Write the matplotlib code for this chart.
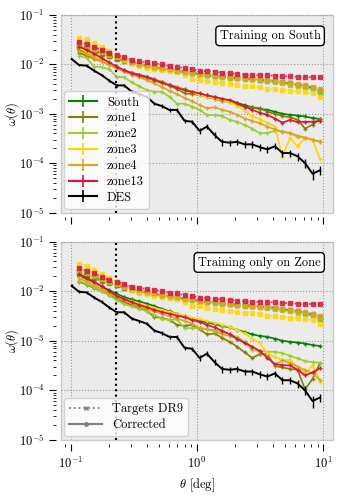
import matplotlib
matplotlib.use("Agg")
import matplotlib.pyplot as plt
from matplotlib.lines import Line2D

plt.rcParams.update({
    "font.family": "serif",
    "font.serif": ["cmr10", "DejaVu Serif"],
    "mathtext.fontset": "cm",
    "axes.formatter.use_mathtext": True,
    "font.size": 9,
    "axes.labelsize": 9,
    "xtick.labelsize": 9,
    "ytick.labelsize": 9,
    "legend.fontsize": 9,
})

# ---------- data ----------
# angular bins (deg); DES uses all of them, the zones start at the 2nd bin
THETA = [0.102, 0.117, 0.134, 0.154, 0.176, 0.202, 0.232, 0.266, 0.305, 0.350,
         0.402, 0.461, 0.528, 0.607, 0.695, 0.798, 0.916, 1.05, 1.20, 1.38,
         1.58, 1.82, 2.08, 2.39, 2.74, 3.15, 3.61, 4.14, 4.75, 5.45,
         6.25, 7.17, 8.22, 9.44]
THETA_ZONE = THETA[1:]
THETA_CUT = 0.23

ZONES = ["South", "zone1", "zone2", "zone3", "zone4", "zone13"]
COLORS = ["green", "olive", "yellowgreen", "gold", "goldenrod", "crimson"]

DES_W = [1.28e-2, 9.7e-3, 9.4e-3, 7.4e-3, 6.1e-3, 4.7e-3, 3.75e-3, 3.75e-3, 2.8e-3, 2.5e-3,
         2.2e-3, 1.6e-3, 1.43e-3, 1.19e-3, 1.19e-3, 7.2e-4, 6.9e-4, 4.5e-4, 5.5e-4, 3.7e-4,
         2.7e-4, 2.6e-4, 2.7e-4, 2.4e-4, 2.4e-4, 2.1e-4, 1.9e-4, 2.2e-4, 1.6e-4, 1.6e-4,
         1.38e-4, 1.0e-4, 6.1e-5, 7.2e-5]
DES_ERR = [8e-4, 6e-4, 6e-4, 5e-4, 4e-4, 3e-4, 2.5e-4, 2.5e-4, 2e-4, 1.8e-4,
           1.6e-4, 1.3e-4, 1.2e-4, 1.0e-4, 1.0e-4, 8e-5, 7e-5, 6e-5, 6e-5, 5e-5,
           4.5e-5, 4e-5, 4e-5, 3.5e-5, 3.5e-5, 3.2e-5, 3e-5, 3e-5, 2.8e-5, 2.6e-5,
           2.5e-5, 2e-5, 1.6e-5, 1.4e-5]

# Targets DR9 (before correction), identical in both panels
TGT_SOUTH = [2.4e-2, 2.15e-2, 1.9e-2, 1.7e-2, 1.5e-2, 1.35e-2, 1.2e-2, 1.1e-2, 1.0e-2, 9.4e-3,
             8.8e-3, 8.3e-3, 7.9e-3, 7.5e-3, 7.1e-3, 6.8e-3, 6.4e-3, 6.1e-3, 5.9e-3, 5.7e-3,
             5.5e-3, 5.3e-3, 5.2e-3, 5.1e-3, 4.9e-3, 4.8e-3, 4.6e-3, 4.3e-3, 4.1e-3, 3.9e-3,
             3.6e-3, 3.3e-3, 2.8e-3]
TGT_ZONE1 = [2.2e-2, 2.0e-2, 1.8e-2, 1.6e-2, 1.45e-2, 1.3e-2, 1.17e-2, 1.07e-2, 9.8e-3, 9.2e-3,
             8.6e-3, 8.1e-3, 7.7e-3, 7.3e-3, 6.9e-3, 6.6e-3, 6.3e-3, 6.0e-3, 5.8e-3, 5.6e-3,
             5.4e-3, 5.2e-3, 5.1e-3, 5.0e-3, 4.8e-3, 4.7e-3, 4.5e-3, 4.3e-3, 4.1e-3, 3.9e-3,
             3.7e-3, 3.4e-3, 3.0e-3]
TGT_ZONE2 = [2.6e-2, 2.3e-2, 2.0e-2, 1.75e-2, 1.55e-2, 1.38e-2, 1.22e-2, 1.1e-2, 1.0e-2, 9.3e-3,
             8.7e-3, 8.2e-3, 7.8e-3, 7.4e-3, 7.0e-3, 6.7e-3, 6.3e-3, 6.0e-3, 5.8e-3, 5.6e-3,
             5.4e-3, 5.2e-3, 5.1e-3, 5.0e-3, 4.8e-3, 4.6e-3, 4.4e-3, 4.1e-3, 3.9e-3, 3.7e-3,
             3.4e-3, 3.1e-3, 2.6e-3]
TGT_ZONE3 = [3.5e-2, 3.2e-2, 2.7e-2, 2.25e-2, 1.85e-2, 1.5e-2, 1.25e-2, 1.05e-2, 9.3e-3, 8.6e-3,
             8.1e-3, 7.7e-3, 7.4e-3, 7.0e-3, 6.1e-3, 5.1e-3, 4.9e-3, 4.6e-3, 4.3e-3, 4.2e-3,
             4.0e-3, 3.8e-3, 3.7e-3, 3.6e-3, 3.5e-3, 3.2e-3, 3.1e-3, 3.0e-3, 2.9e-3, 2.85e-3,
             2.75e-3, 2.6e-3, 2.2e-3]
TGT_ZONE4 = [2.75e-2, 2.4e-2, 2.1e-2, 1.85e-2, 1.6e-2, 1.42e-2, 1.27e-2, 1.14e-2, 1.04e-2, 9.7e-3,
             9.0e-3, 8.4e-3, 8.0e-3, 7.5e-3, 7.1e-3, 6.8e-3, 6.4e-3, 6.1e-3, 5.9e-3, 5.7e-3,
             5.5e-3, 5.3e-3, 5.2e-3, 5.1e-3, 5.0e-3, 4.8e-3, 4.6e-3, 4.4e-3, 4.2e-3, 4.0e-3,
             3.8e-3, 3.5e-3, 3.1e-3]
TGT_ZONE13 = [2.9e-2, 2.6e-2, 2.3e-2, 1.95e-2, 1.7e-2, 1.55e-2, 1.4e-2, 1.22e-2, 1.17e-2, 1.1e-2,
              1.05e-2, 1.0e-2, 9.2e-3, 9.0e-3, 8.3e-3, 8.1e-3, 7.4e-3, 7.3e-3, 7.1e-3, 6.8e-3,
              6.6e-3, 6.4e-3, 6.2e-3, 6.1e-3, 6.1e-3, 6.0e-3, 5.9e-3, 5.8e-3, 5.7e-3, 5.6e-3,
              5.5e-3, 5.5e-3, 5.45e-3]

# Corrected, training on South (top panel)
COR_S_SOUTH = [2.0e-2, 1.75e-2, 1.5e-2, 1.25e-2, 1.05e-2, 8.8e-3, 7.6e-3, 6.8e-3, 6.2e-3, 5.6e-3,
               5.0e-3, 4.4e-3, 3.9e-3, 3.5e-3, 3.1e-3, 2.8e-3, 2.55e-3, 2.35e-3, 2.15e-3, 2.0e-3,
               1.85e-3, 1.65e-3, 1.5e-3, 1.35e-3, 1.25e-3, 1.2e-3, 1.1e-3, 1.0e-3, 9.5e-4, 9.2e-4,
               8.8e-4, 8.2e-4, 7.8e-4]
COR_S_ZONE1 = [1.7e-2, 1.5e-2, 1.3e-2, 1.15e-2, 1.0e-2, 8.4e-3, 7.2e-3, 6.4e-3, 5.8e-3, 5.3e-3,
               4.7e-3, 4.2e-3, 3.7e-3, 3.2e-3, 2.6e-3, 2.5e-3, 2.4e-3, 2.2e-3, 2.0e-3, 1.85e-3,
               1.7e-3, 1.5e-3, 1.4e-3, 1.35e-3, 1.3e-3, 1.1e-3, 1.0e-3, 9.0e-4, 8.5e-4, 7.6e-4,
               5.0e-4, 6.0e-4, 8.0e-4]
COR_S_ZONE2 = [1.5e-2, 1.35e-2, 9.0e-3, 8.8e-3, 8.0e-3, 5.6e-3, 5.5e-3, 4.3e-3, 3.6e-3, 3.0e-3,
               2.8e-3, 2.8e-3, 2.2e-3, 1.6e-3, 1.6e-3, 1.4e-3, 1.2e-3, 9.5e-4, 9.4e-4, 9.0e-4,
               7.5e-4, 6.9e-4, 5.9e-4, 5.0e-4, 4.0e-4, 4.1e-4, 4.5e-4, 4.4e-4, 4.0e-4, 3.4e-4,
               3.3e-4, 2.9e-4, 2.8e-4]
COR_S_ZONE3 = [2.1e-2, 1.8e-2, 1.5e-2, 1.25e-2, 1.05e-2, 8.8e-3, 7.5e-3, 6.6e-3, 6.0e-3, 5.4e-3,
               4.9e-3, 4.4e-3, 3.9e-3, 3.5e-3, 3.0e-3, 2.7e-3, 2.4e-3, 2.2e-3, 2.05e-3, 1.9e-3,
               1.7e-3, 1.45e-3, 1.15e-3, 9.0e-4, 7.8e-4, 6.5e-4, 5.5e-4, 1.35e-4, 3.2e-4, 2.2e-4,
               3.2e-4, 2.9e-4, 1.2e-4]
COR_S_ZONE4 = [1.9e-2, 1.6e-2, 1.35e-2, 1.15e-2, 9.8e-3, 8.3e-3, 7.2e-3, 6.2e-3, 5.5e-3, 4.8e-3,
               4.1e-3, 3.5e-3, 2.9e-3, 2.5e-3, 2.1e-3, 1.8e-3, 1.5e-3, 1.3e-3, 1.35e-3, 1.2e-3,
               1.1e-3, 9.5e-4, 8.0e-4, 7.2e-4, 6.4e-4, 5.5e-4, 4.8e-4, 4.3e-4, 4.1e-4, 3.6e-4,
               3.3e-4, 3.0e-4, 2.7e-4]
COR_S_ZONE13 = [2.3e-2, 1.95e-2, 1.65e-2, 1.35e-2, 1.1e-2, 9.0e-3, 7.6e-3, 6.6e-3, 6.0e-3, 5.5e-3,
                4.9e-3, 4.3e-3, 3.8e-3, 3.4e-3, 3.0e-3, 2.75e-3, 2.6e-3, 2.35e-3, 2.2e-3, 2.0e-3,
                1.9e-3, 1.65e-3, 1.4e-3, 1.2e-3, 1.05e-3, 9.5e-4, 8.0e-4, 6.6e-4, 7.5e-4, 6.8e-4,
                6.9e-4, 6.9e-4, 7.1e-4]

# Corrected, training only on each zone (bottom panel)
COR_Z_SOUTH = COR_S_SOUTH
COR_Z_ZONE1 = [1.55e-2, 1.35e-2, 1.15e-2, 1.0e-2, 8.5e-3, 7.0e-3, 6.0e-3, 5.2e-3, 4.6e-3, 4.0e-3,
               3.0e-3, 2.9e-3, 2.6e-3, 2.1e-3, 2.0e-3, 2.1e-3, 1.7e-3, 1.35e-3, 1.4e-3, 1.15e-3,
               9.5e-4, 7.6e-4, 5.8e-4, 4.5e-4, 5.4e-4, 5.4e-4, 3.1e-4, 2.9e-4, 2.7e-4, 2.6e-4,
               1.05e-4, 1.7e-4, 3.6e-4]
COR_Z_ZONE2 = [1.6e-2, 1.4e-2, 1.2e-2, 1.0e-2, 8.2e-3, 6.5e-3, 5.5e-3, 4.9e-3, 4.4e-3, 3.9e-3,
               3.3e-3, 2.8e-3, 2.6e-3, 2.7e-3, 1.8e-3, 1.8e-3, 1.8e-3, 1.7e-3, 1.65e-3, 1.5e-3,
               1.35e-3, 1.2e-3, 9.5e-4, 6.4e-4, 6.3e-4, 6.0e-4, 6.0e-4, 5.6e-4, 5.0e-4, 4.4e-4,
               3.9e-4, 3.7e-4, 3.6e-4]
COR_Z_ZONE3 = [1.9e-2, 1.6e-2, 1.35e-2, 1.1e-2, 9.2e-3, 7.8e-3, 7.0e-3, 6.2e-3, 5.6e-3, 5.1e-3,
               4.6e-3, 4.2e-3, 3.8e-3, 3.5e-3, 3.2e-3, 2.9e-3, 2.7e-3, 2.5e-3, 2.3e-3, 2.1e-3,
               1.9e-3, 1.65e-3, 1.4e-3, 1.1e-3, 8.9e-4, 5.6e-4, 4.7e-4, 4.1e-4, 4.1e-4, 3.0e-4,
               2.2e-4, 3.2e-4, 1.5e-4]
COR_Z_ZONE4 = [1.8e-2, 1.55e-2, 1.3e-2, 1.1e-2, 9.0e-3, 7.5e-3, 6.5e-3, 5.7e-3, 5.0e-3, 4.4e-3,
               3.9e-3, 3.5e-3, 3.1e-3, 2.8e-3, 2.5e-3, 2.2e-3, 1.8e-3, 1.7e-3, 1.55e-3, 1.35e-3,
               1.25e-3, 1.1e-3, 9.5e-4, 7.6e-4, 6.0e-4, 4.7e-4, 3.3e-4, 4.0e-4, 3.6e-4, 3.0e-4,
               2.6e-4, 2.2e-4, 1.6e-4]
COR_Z_ZONE13 = [2.2e-2, 1.85e-2, 1.55e-2, 1.25e-2, 1.0e-2, 8.0e-3, 7.0e-3, 6.0e-3, 5.3e-3, 4.7e-3,
                4.2e-3, 3.8e-3, 3.5e-3, 3.2e-3, 3.0e-3, 2.6e-3, 2.4e-3, 2.1e-3, 1.85e-3, 1.6e-3,
                1.35e-3, 1.1e-3, 9.0e-4, 7.6e-4, 6.2e-4, 4.5e-4, 3.4e-4, 3.2e-4, 3.2e-4, 2.6e-4,
                2.0e-4, 2.3e-4, 2.8e-4]

TARGETS = [TGT_SOUTH, TGT_ZONE1, TGT_ZONE2, TGT_ZONE3, TGT_ZONE4, TGT_ZONE13]
COR_TOP = [COR_S_SOUTH, COR_S_ZONE1, COR_S_ZONE2, COR_S_ZONE3, COR_S_ZONE4, COR_S_ZONE13]
COR_BOT = [COR_Z_SOUTH, COR_Z_ZONE1, COR_Z_ZONE2, COR_Z_ZONE3, COR_Z_ZONE4, COR_Z_ZONE13]

BG = "#ebebeb"


def draw_panel(ax, corrected, title):
    ax.set_facecolor(BG)
    ax.patch.set_edgecolor("#c8c8c8")
    ax.patch.set_linewidth(1.0)
    for tgt, col in zip(TARGETS, COLORS):
        ax.plot(THETA_ZONE, tgt, ls=":", lw=1.3, color=col, marker="s", ms=2.2,
                alpha=0.8, zorder=2)
    for cor, col in zip(corrected, COLORS):
        ax.plot(THETA_ZONE, cor, ls="-", lw=1.2, color=col, marker="+", ms=3.5,
                mew=1.0, zorder=3)
    ax.errorbar(THETA, DES_W, yerr=DES_ERR, color="black", lw=1.4, elinewidth=1.0,
                capsize=0, zorder=4)
    ax.axvline(THETA_CUT, color="black", ls=(0, (1, 1.6)), lw=1.5, zorder=1)

    ax.set_xscale("log")
    ax.set_yscale("log")
    ax.set_xlim(0.0834, 11.9)
    ax.set_ylim(1e-5, 1e-1)
    ax.grid(True, which="major", ls=":", color="#9a9a9a", lw=0.8, zorder=0)
    ax.set_axisbelow(True)
    for side in ax.spines:
        ax.spines[side].set_visible(False)
    ax.spines["left"].set_position(("outward", 3))
    ax.spines["bottom"].set_position(("outward", 3))
    ax.tick_params(which="major", length=5, width=0.8, direction="out")
    ax.tick_params(which="minor", length=2.5, width=0.6, direction="out")
    ax.set_ylabel(r"$\omega(\theta)$")
    ax.yaxis.set_label_coords(-0.145, 0.5)
    ax.text(0.955, 0.925, title, transform=ax.transAxes, ha="right", va="top",
            fontsize=9, zorder=6,
            bbox=dict(boxstyle="round,pad=0.3", fc="white", ec="black", lw=1.0))


fig = plt.figure(figsize=(3.5, 5), dpi=100)
ax1 = fig.add_axes([0.173, 0.575, 0.778, 0.395])
ax2 = fig.add_axes([0.173, 0.120, 0.778, 0.397])

draw_panel(ax1, COR_TOP, "Training on South")
draw_panel(ax2, COR_BOT, "Training only on Zone")
ax1.tick_params(axis="x", which="both", labelbottom=False)
ax2.set_xlabel(r"$\theta$ [deg]")

handles = [Line2D([0], [0], color=c, lw=1.5, marker="+", ms=8, mew=1.2) for c in COLORS]
handles.append(Line2D([0], [0], color="black", lw=1.5, marker="+", ms=8, mew=1.2))
ax1.legend(handles, ZONES + ["DES"], loc="lower left", frameon=True, fancybox=True,
           facecolor="white", edgecolor="#cccccc", framealpha=0.8,
           handlelength=2.2, borderaxespad=0.3, labelspacing=0.3)

style_handles = [
    Line2D([0], [0], color="gray", ls=":", lw=1.3, marker="x", ms=3.5),
    Line2D([0], [0], color="gray", ls="-", lw=1.5, marker=".", ms=5),
]
ax2.legend(style_handles, ["Targets DR9", "Corrected"], loc="lower left", frameon=True,
           fancybox=True, facecolor="white", edgecolor="#cccccc", framealpha=0.8,
           handlelength=2.6, borderaxespad=0.3, labelspacing=0.3)

fig.savefig("out.png", dpi=100)
